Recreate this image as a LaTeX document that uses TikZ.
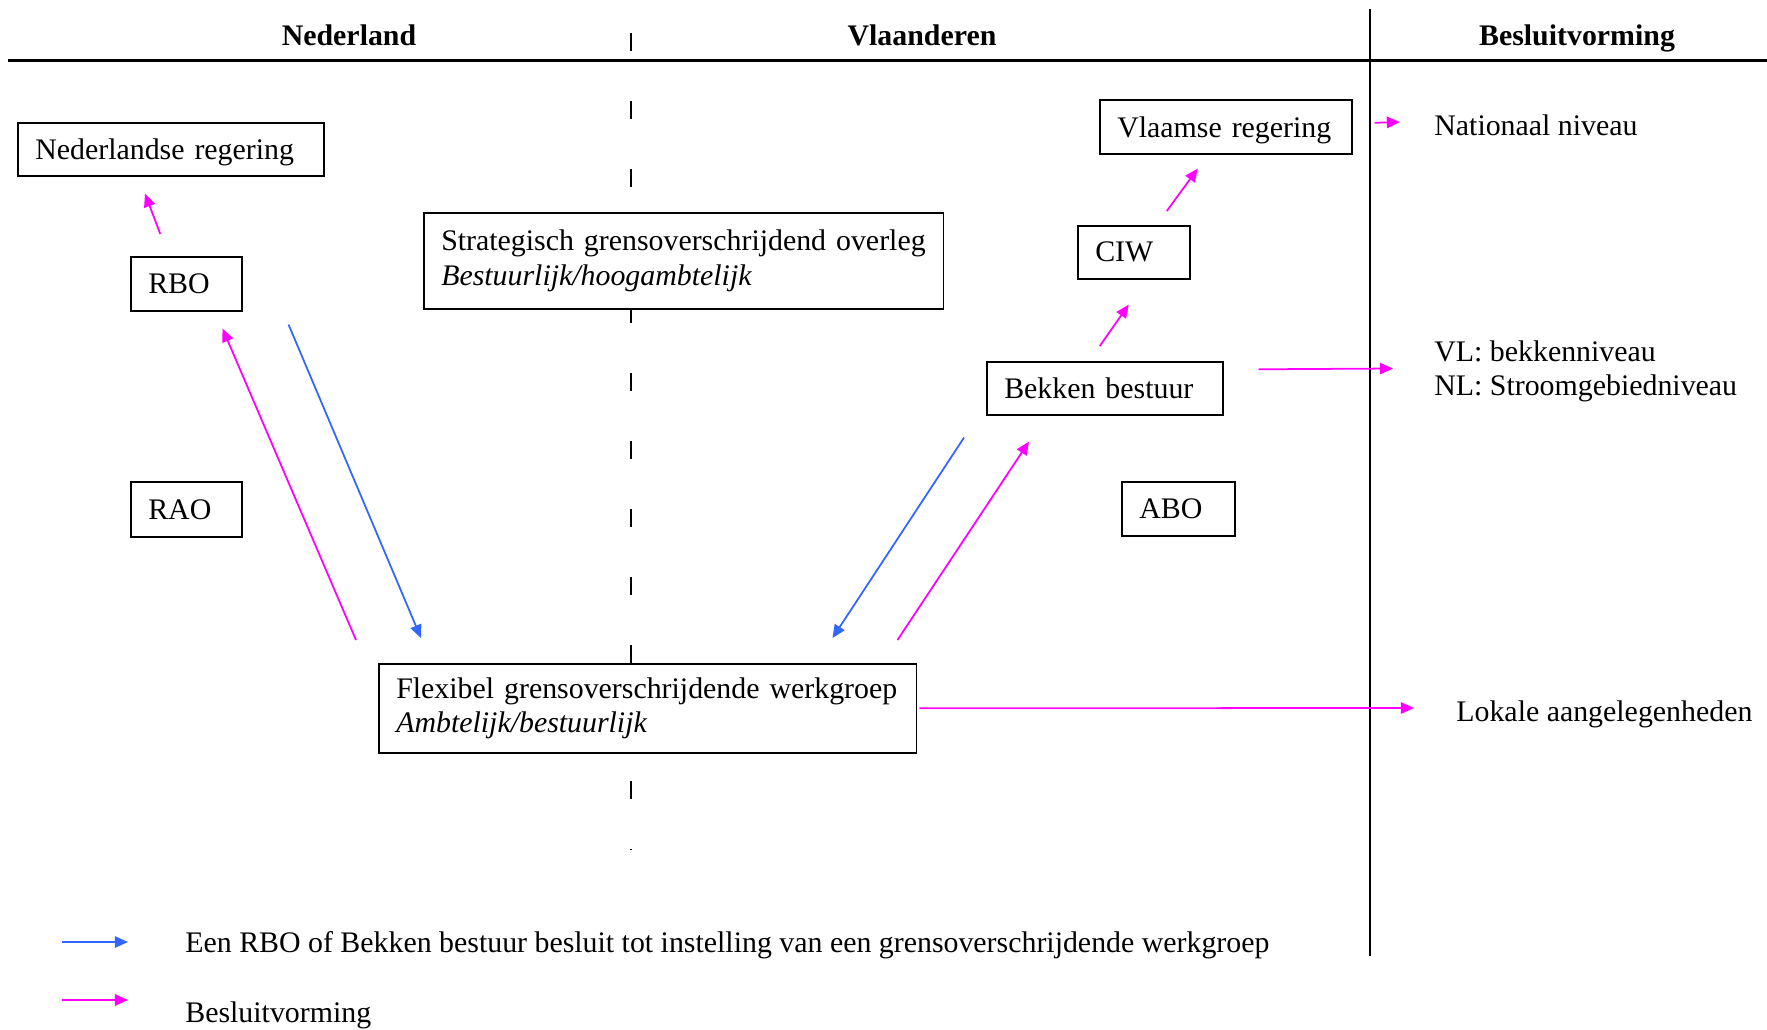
\documentclass[tikz,border=0pt]{standalone}
\usepackage{fontspec}
\setmainfont{Liberation Serif}
\usetikzlibrary{arrows.meta}
\definecolor{besluitroze}{RGB}{255,0,255}
\definecolor{werkblauw}{RGB}{51,102,255}

\begin{document}
\begin{tikzpicture}[
        x=0.02cm, y=-0.02cm,
        every node/.style={font=\fontsize{17}{19.4}\selectfont, inner sep=0pt},
        vak/.style={draw, line width=0.9pt, fill=white, anchor=north west, align=left, inner xsep=0.35cm},
        kop/.style={font=\fontsize{17}{19.4}\selectfont\bfseries, anchor=base},
        uitleg/.style={anchor=west, align=left},
        besluit/.style={draw=besluitroze, line width=1pt, -{Triangle[length=7.5pt,width=6.5pt]}},
        instelling/.style={draw=werkblauw, line width=1pt, -{Triangle[length=7.5pt,width=6.5pt]}}
    ]
    \useasboundingbox (0,0) rectangle (1767,1029);

    % Kolommen
    \draw[line width=1.7pt] (8,60) -- (1767,60);
    \draw[line width=0.7pt] (1370,9) -- (1370,956);
    \draw[line width=0.9pt, dash pattern=on 10.2pt off 28.5pt] (631,33) -- (631,850);

    % Koppen
    \node[kop] (nl) at (349,45) {Nederland};
    \node[kop] (vl) at (922,45) {Vlaanderen};
    \node[kop] (bv) at (1577,45) {Besluitvorming};

    % Vakken
    \node[vak, text width=5.42cm, minimum height=1.06cm, text depth=0pt] (nlreg) at (17,122) {Nederlandse regering};
    \node[vak, text width=1.52cm, minimum height=1.08cm] (rbo) at (130,256) {RBO};
    \node[vak, text width=1.52cm, minimum height=1.10cm] (rao) at (130,481) {RAO};
    \node[vak, text width=9.70cm, minimum height=1.92cm] (strat) at (423,212) {Strategisch grensoverschrijdend overleg\\\textit{Bestuurlijk/hoogambtelijk}};
    \node[vak, text width=4.34cm, minimum height=1.08cm, text depth=0pt] (vlreg) at (1099,99) {Vlaamse regering};
    \node[vak, text width=1.54cm, minimum height=1.06cm] (ciw) at (1077,225) {CIW};
    \node[vak, text width=4.02cm, minimum height=1.06cm] (bekken) at (986,361) {Bekken bestuur};
    \node[vak, text width=1.56cm, minimum height=1.08cm] (abo) at (1121,481) {ABO};
    \node[vak, text width=10.06cm, minimum height=1.78cm] (flex) at (378,663) {Flexibel grensoverschrijdende werkgroep\\\textit{Ambtelijk/bestuurlijk}};

    % Niveaus en legenda
    \node[uitleg] (nat) at (1434,125) {Nationaal niveau};
    \node[uitleg] (bekniv) at (1434,371) {VL: bekkenniveau\\NL: Stroomgebiedniveau};
    \node[uitleg] (lokaal) at (1456,714.5) {Lokale aangelegenheden};
    \node[uitleg] (leg1) at (185,945) {Een RBO of Bekken bestuur besluit tot instelling van een grensoverschrijdende werkgroep};
    \node[uitleg] (leg2) at (185,1015.5) {Besluitvorming};

    % Pijlen
    \draw[besluit] ([shift={(-26,-22)}]rbo.north) -- ([shift={(128,17)}]nlreg.south west);
    \draw[besluit] ([shift={(-22,-23)}]flex.north west) -- ([shift={(-20,17)}]rbo.south east);
    \draw[instelling] ([shift={(46,13)}]rbo.south east) -- ([shift={(43,-25)}]flex.north west);
    \draw[instelling] ([shift={(-22,22)}]bekken.south west) -- ([shift={(-85,-25)}]flex.north east);
    \draw[besluit] ([shift={(-20,-23)}]flex.north east) -- ([shift={(43,26)}]bekken.south west);
    \draw[besluit] ([shift={(-5,-15)}]bekken.north) -- ([shift={(-5,25)}]ciw.south);
    \draw[besluit] ([shift={(33,-14)}]ciw.north) -- ([shift={(-28,14)}]vlreg.south);
    \draw[besluit] ([shift={(22,-4)}]vlreg.east) -- ([shift={(-34,-3)}]nat.west);
    \draw[besluit] ([shift={(35,-19)}]bekken.east) -- ([shift={(-41,-2.5)}]bekniv.west);
    \draw[besluit] ([shift={(2,0)}]flex.east) -- ([shift={(-42,-6.5)}]lokaal.west);
    \draw[instelling] ([shift={(-123,-3)}]leg1.west) -- ([shift={(-57,-3)}]leg1.west);
    \draw[besluit] ([shift={(-123,-15.5)}]leg2.west) -- ([shift={(-57,-15.5)}]leg2.west);

    \end{tikzpicture}
\end{document}
